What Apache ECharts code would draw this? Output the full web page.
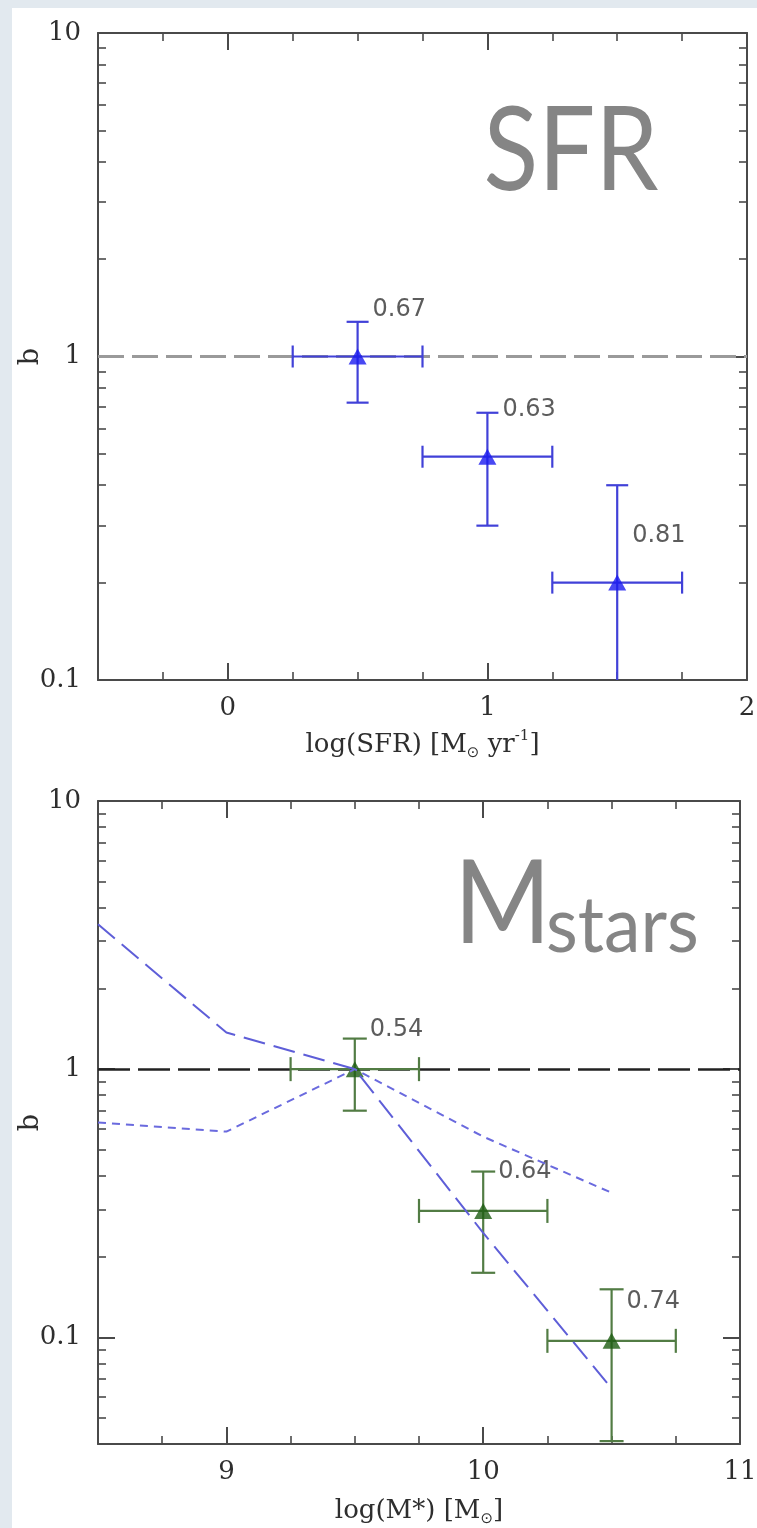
<!DOCTYPE html>
<html>
<head>
<meta charset="utf-8">
<script src="https://cdn.jsdelivr.net/npm/echarts@6/dist/echarts.min.js"></script>
<style>
html,body{margin:0;padding:0;background:#e2e9ef;}
#c{width:757px;height:1528px;}
</style>
</head>
<body>
<div id="c"></div>
<script>
// ---- Top panel: bias b vs log(SFR) ----
const sfrX    = [0.5, 1.0, 1.5];
const sfrB    = [1.0, 0.49, 0.20];
const sfrXLo  = [0.25, 0.75, 1.25];
const sfrXHi  = [0.75, 1.25, 1.75];
const sfrBLo  = [0.72, 0.30, 0.05];
const sfrBHi  = [1.28, 0.67, 0.40];
const sfrLabels = ['0.67', '0.63', '0.81'];

// ---- Bottom panel: bias b vs log(M*) ----
const massX   = [9.5, 10.0, 10.5];
const massB   = [1.0, 0.296, 0.097];
const massXLo = [9.25, 9.75, 10.25];
const massXHi = [9.75, 10.25, 10.75];
const massBLo = [0.70, 0.174, 0.041];
const massBHi = [1.30, 0.415, 0.151];
const massLabels = ['0.54', '0.64', '0.74'];

// model curves (blue dashed)
const modelLongX  = [8.5, 9.0, 9.5, 10.0, 10.5];
const modelLongB  = [3.47, 1.37, 1.0, 0.245, 0.0645];
const modelShortX = [8.5, 9.0, 9.5, 10.0, 10.5];
const modelShortB = [0.633, 0.585, 1.0, 0.56, 0.346];

// ticks
const sfrXMajor  = [0, 1, 2];
const sfrXMinor  = [-0.25, 0.25, 0.5, 0.75, 1.25, 1.5, 1.75];
const massXMajor = [9, 10, 11];
const massXMinor = [8.75, 9.25, 9.5, 9.75, 10.25, 10.5, 10.75];
const bMajor = [0.1, 1, 10];
const bMinorTop = [0.2, 0.3, 0.4, 0.5, 0.6, 0.7, 0.8, 0.9, 2, 3, 4, 5, 6, 7, 8, 9];
const bMinorBottom = [0.05, 0.06, 0.07, 0.08, 0.09, 0.2, 0.3, 0.4, 0.5, 0.6, 0.7, 0.8, 0.9, 2, 3, 4, 5, 6, 7, 8, 9];

const AX = '#4a4a4a';
const TXT = '#2e2e2e';
const SERIF = "'DejaVu Serif','Liberation Serif',serif";
const SANS = "'DejaVu Sans','Liberation Sans',sans-serif";

function xAxes(grid, min, max, major, minor, name, nameGap) {
  const base = {type: 'value', gridIndex: grid, min: min, max: max, splitLine: {show: false}, scale: true};
  const line = {show: true, onZero: false, lineStyle: {color: AX, width: 2}};
  const noLine = {show: false, onZero: false};
  const tMaj = {show: true, inside: true, length: 17, customValues: major, lineStyle: {color: AX, width: 2}};
  const tMin = {show: true, inside: true, length: 8, customValues: minor, lineStyle: {color: AX, width: 1.6}};
  return [
    Object.assign({}, base, {position: 'bottom', axisLine: line, axisTick: tMaj,
      axisLabel: {show: true, customValues: major, margin: 15, fontFamily: SERIF, fontSize: 26, color: TXT},
      name: name, nameLocation: 'middle', nameGap: nameGap, nameMoveOverlap: false,
      nameTextStyle: {fontFamily: SERIF, fontSize: 26, color: TXT,
        rich: {
          t: {fontFamily: SERIF, fontSize: 26, color: TXT, lineHeight: 32},
          s: {fontFamily: SANS, fontSize: 15, color: TXT, verticalAlign: 'bottom', lineHeight: 15},
          p: {fontFamily: SERIF, fontSize: 15, color: TXT, verticalAlign: 'top', lineHeight: 17}
        }}}),
    Object.assign({}, base, {position: 'bottom', axisLine: noLine, axisTick: tMin, axisLabel: {show: false}}),
    Object.assign({}, base, {position: 'top', axisLine: line, axisTick: tMaj, axisLabel: {show: false}}),
    Object.assign({}, base, {position: 'top', axisLine: noLine, axisTick: tMin, axisLabel: {show: false}})
  ];
}

function yAxes(grid, min, max, major, minor) {
  const base = {type: 'log', logBase: 10, gridIndex: grid, min: min, max: max, splitLine: {show: false}};
  const line = {show: true, onZero: false, lineStyle: {color: AX, width: 2}};
  const noLine = {show: false, onZero: false};
  const tMaj = {show: true, inside: true, length: 17, customValues: major, lineStyle: {color: AX, width: 2}};
  const tMin = {show: true, inside: true, length: 8, customValues: minor, lineStyle: {color: AX, width: 1.6}};
  return [
    Object.assign({}, base, {position: 'left', axisLine: line, axisTick: tMaj,
      axisLabel: {show: true, customValues: major, margin: 17, fontFamily: SERIF, fontSize: 26, color: TXT},
      name: 'b', nameLocation: 'middle', nameGap: 54, nameMoveOverlap: false,
      nameTextStyle: {fontFamily: SERIF, fontSize: 27, color: TXT}}),
    Object.assign({}, base, {position: 'left', axisLine: noLine, axisTick: tMin, axisLabel: {show: false}}),
    Object.assign({}, base, {position: 'right', axisLine: line, axisTick: tMaj, axisLabel: {show: false}}),
    Object.assign({}, base, {position: 'right', axisLine: noLine, axisTick: tMin, axisLabel: {show: false}})
  ];
}

function errRender(color, width, cap) {
  return function (params, api) {
    const cs = params.coordSys;
    const top = cs.y, bot = cs.y + cs.height;
    const x = api.value(0), y = api.value(1);
    const c = api.coord([x, y]);
    const l = api.coord([api.value(2), y]);
    const r = api.coord([api.value(3), y]);
    let lo = api.coord([x, api.value(4)])[1];
    let hi = api.coord([x, api.value(5)])[1];
    const st = {stroke: color, lineWidth: width, fill: null};
    const kids = [];
    const loClip = lo > bot; if (loClip) lo = bot;
    const hiClip = hi < top; if (hiClip) hi = top;
    kids.push({type: 'line', shape: {x1: l[0], y1: c[1], x2: r[0], y2: c[1]}, style: st});
    kids.push({type: 'line', shape: {x1: l[0], y1: c[1] - cap, x2: l[0], y2: c[1] + cap}, style: st});
    kids.push({type: 'line', shape: {x1: r[0], y1: c[1] - cap, x2: r[0], y2: c[1] + cap}, style: st});
    kids.push({type: 'line', shape: {x1: c[0], y1: lo, x2: c[0], y2: hi}, style: st});
    if (!loClip) kids.push({type: 'line', shape: {x1: c[0] - cap, y1: lo, x2: c[0] + cap, y2: lo}, style: st});
    if (!hiClip) kids.push({type: 'line', shape: {x1: c[0] - cap, y1: hi, x2: c[0] + cap, y2: hi}, style: st});
    return {type: 'group', children: kids};
  };
}

function zip(a, b) { return a.map((v, i) => [v, b[i]]); }

const sfrErr = sfrX.map((v, i) => [v, sfrB[i], sfrXLo[i], sfrXHi[i], sfrBLo[i], sfrBHi[i]]);
const massErr = massX.map((v, i) => [v, massB[i], massXLo[i], massXHi[i], massBLo[i], massBHi[i]]);

const option = {
  backgroundColor: 'transparent',
  animation: false,
  graphic: [
    {type: 'rect', z: -100, shape: {x: 12, y: 8, width: 745, height: 1520}, style: {fill: '#ffffff'}},
    {type: 'text', z: 10, x: 571, y: 153, scaleX: 0.87,
      style: {text: 'SFR', fontFamily: 'Lato', fontSize: 116, fill: '#858585', align: 'center', verticalAlign: 'middle'}},
    {type: 'text', z: 10, x: 454, y: 906, scaleX: 0.9,
      style: {text: 'M', fontFamily: 'Lato', fontSize: 116, fill: '#858585', align: 'left', verticalAlign: 'middle'}},
    {type: 'text', z: 10, x: 546, y: 927, scaleX: 0.94,
      style: {text: 'stars', fontFamily: 'Lato', fontSize: 78, fill: '#858585', align: 'left', verticalAlign: 'middle'}}
  ],
  grid: [
    {left: 98, top: 33, width: 649, height: 647, outerBoundsMode: 'none', containLabel: false},
    {left: 98, top: 801, width: 642, height: 643, outerBoundsMode: 'none', containLabel: false}
  ],
  xAxis: [].concat(
    xAxes(0, -0.5, 2, sfrXMajor, sfrXMinor, '{t|log(SFR) [M}{s|⊙}{t| yr}{p|-1}{t|]}', 49),
    xAxes(1, 8.5, 11, massXMajor, massXMinor, '{t|log(M*) [M}{s|⊙}{t|]}', 51)
  ),
  yAxis: [].concat(
    yAxes(0, 0.1, 10, bMajor, bMinorTop),
    yAxes(1, 0.04, 10, bMajor, bMinorBottom)
  ),
  series: [
    // top panel
    {type: 'line', xAxisIndex: 0, yAxisIndex: 0, data: [], z: 1, silent: true,
      markLine: {silent: true, z: 1, symbol: 'none', label: {show: false},
        lineStyle: {color: '#9a9a9a', width: 3, type: [26, 8]}, data: [{yAxis: 1}]}},
    {type: 'custom', xAxisIndex: 0, yAxisIndex: 0, z: 3, data: sfrErr,
      renderItem: errRender('#4141d8', 2.2, 11), encode: {x: 0, y: 1}},
    {type: 'scatter', xAxisIndex: 0, yAxisIndex: 0, z: 4, data: zip(sfrX, sfrB),
      symbol: 'triangle', symbolSize: [18, 16], itemStyle: {color: '#1a1af0'},
      label: {show: true, position: 'inside', align: 'left', verticalAlign: 'middle', offset: [15, -47],
        fontFamily: SANS, fontSize: 24, color: '#333',
        formatter: p => sfrLabels[p.dataIndex]}},
    // bottom panel
    {type: 'line', xAxisIndex: 4, yAxisIndex: 4, data: [], z: 1, silent: true,
      markLine: {silent: true, z: 1, symbol: 'none', label: {show: false},
        lineStyle: {color: '#222222', width: 2.5, type: [32, 8]}, data: [{yAxis: 1}]}},
    {type: 'custom', xAxisIndex: 4, yAxisIndex: 4, z: 3, data: massErr,
      renderItem: errRender('#527c44', 2.2, 12), encode: {x: 0, y: 1}},
    {type: 'line', xAxisIndex: 4, yAxisIndex: 4, z: 5, data: zip(modelLongX, modelLongB),
      showSymbol: false, symbol: 'none', lineStyle: {color: '#5e5ed8', width: 2, type: [22, 9]}},
    {type: 'line', xAxisIndex: 4, yAxisIndex: 4, z: 5, data: zip(modelShortX, modelShortB),
      showSymbol: false, symbol: 'none', lineStyle: {color: '#6a6ade', width: 2, type: [8, 6]}},
    {type: 'scatter', xAxisIndex: 4, yAxisIndex: 4, z: 4, data: zip(massX, massB),
      symbol: 'triangle', symbolSize: [18, 16], itemStyle: {color: '#1d5c12'},
      label: {show: true, position: 'inside', align: 'left', verticalAlign: 'middle', offset: [15, -39],
        fontFamily: SANS, fontSize: 24, color: '#333',
        formatter: p => massLabels[p.dataIndex]}}
  ]
};

const chart = echarts.init(document.getElementById('c'), null, {renderer: 'canvas'});
chart.setOption(option);
</script>
</body>
</html>
